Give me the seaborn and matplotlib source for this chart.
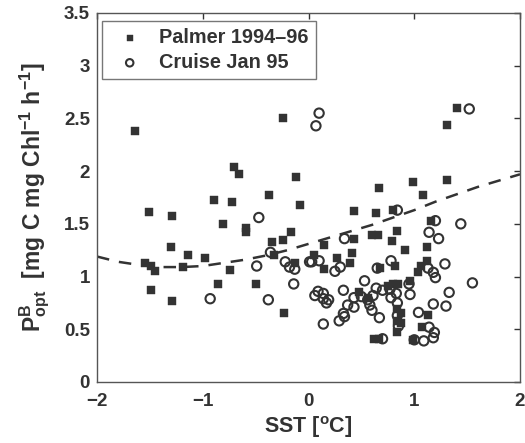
import matplotlib
matplotlib.use("Agg")
import matplotlib.pyplot as plt
import seaborn as sns
import pandas as pd

# ---- data ----
palmer_sst = [-1.64, -0.24, -0.70, -0.66, -0.12, -0.37, -0.89, -0.72, -0.08, -1.51,
              -1.29, -0.81, -0.59, -0.59, -0.17, -0.35, -0.24, -1.30, -1.14, -0.98,
              -0.33, -1.55, -1.49, -1.45, -1.19, -0.74, -0.13, -0.86, -0.50, -1.49,
              -1.29, -0.23,
              1.40, 1.31, 0.67, 0.99, 1.31, 1.08, 0.43, 0.64, 0.80, 0.84,
              0.79, 0.60, 0.66, 0.43, 0.15, 0.91, 0.41, 0.05, 0.27, 0.39,
              0.15, 0.68, 0.82, 0.75, 0.80, 0.85, 0.48, 0.56, 0.84, 0.84,
              0.84, 0.62, 0.67, 1.16, 1.12, 1.12, 1.06, 1.04, 0.96, 1.13,
              1.07, 0.99, 0.87, 0.87]
palmer_p = [2.38, 2.50, 2.04, 1.97, 1.94, 1.77, 1.73, 1.71, 1.68, 1.61,
            1.57, 1.50, 1.46, 1.42, 1.42, 1.33, 1.35, 1.28, 1.20, 1.18,
            1.20, 1.13, 1.10, 1.05, 1.09, 1.06, 1.13, 0.93, 0.93, 0.87,
            0.77, 0.65,
            2.60, 2.44, 1.84, 1.90, 1.92, 1.77, 1.62, 1.60, 1.63, 1.43,
            1.34, 1.39, 1.39, 1.36, 1.30, 1.25, 1.22, 1.20, 1.18, 1.13,
            1.07, 1.08, 1.10, 0.91, 0.93, 0.93, 0.85, 0.80, 0.69, 0.58,
            0.47, 0.41, 0.41, 1.53, 1.28, 1.15, 1.10, 1.04, 0.96, 0.64,
            0.52, 0.40, 0.65, 0.56]

cruise_sst = [0.10, 0.07, 1.52, -0.47, -0.36, -0.49, -0.22, -0.18, -0.13, 0.01,
              -0.14, -0.93, -0.38, 0.84, 0.34, 0.03, 0.10, 0.25, 0.30, 0.65,
              0.78, 0.53, 0.64, 0.70, 0.95, 0.09, 0.14, 0.14, 0.06, 0.33,
              0.50, 0.61, 0.56, 0.77, 0.78, 0.83, 0.19, 0.17, 0.43, 0.43,
              0.37, 0.33, 0.29, 0.34, 0.58, 0.60, 0.67, 0.14, 0.84, 0.84,
              0.85, 0.70, 1.20, 1.44, 1.14, 1.23, 1.13, 1.18, 1.20, 1.29,
              1.55, 0.96, 1.33, 1.18, 1.30, 1.04, 1.14, 1.19, 1.18, 1.00,
              1.09]
cruise_p = [2.55, 2.43, 2.59, 1.56, 1.23, 1.10, 1.14, 1.09, 1.07, 1.14,
            0.93, 0.79, 0.78, 1.63, 1.36, 1.14, 1.15, 1.05, 1.09, 1.08,
            1.15, 0.96, 0.89, 0.87, 0.93, 0.86, 0.84, 0.79, 0.82, 0.87,
            0.81, 0.82, 0.78, 0.88, 0.80, 0.84, 0.78, 0.75, 0.80, 0.71,
            0.73, 0.65, 0.58, 0.62, 0.73, 0.68, 0.61, 0.55, 0.75, 0.63,
            0.53, 0.41, 1.53, 1.50, 1.42, 1.36, 1.08, 1.04, 0.99, 1.12,
            0.94, 0.83, 0.85, 0.74, 0.72, 0.66, 0.52, 0.47, 0.42, 0.40,
            0.39]

curve_sst = [-2.0, -1.8, -1.6, -1.4, -1.2, -1.0, -0.8, -0.6, -0.4, -0.2, 0.0,
             0.2, 0.4, 0.6, 0.8, 1.0, 1.2, 1.4, 1.6, 1.8, 2.0]
curve_p = [1.19, 1.14, 1.11, 1.09, 1.09, 1.10, 1.13, 1.16, 1.20, 1.25, 1.31,
           1.37, 1.43, 1.49, 1.56, 1.63, 1.71, 1.78, 1.85, 1.91, 1.97]

x_ticks = [-2, -1, 0, 1, 2]
y_ticks = [0, 0.5, 1, 1.5, 2, 2.5, 3, 3.5]
y_tick_labels = ["0", "0.5", "1", "1.5", "2", "2.5", "3", "3.5"]

# ---- plot ----
sns.set_style("white")
plt.rcParams["font.family"] = ["Liberation Sans", "DejaVu Sans"]
plt.rcParams["font.weight"] = "bold"
plt.rcParams["mathtext.fontset"] = "custom"
plt.rcParams["mathtext.rm"] = "Liberation Sans:bold"
plt.rcParams["mathtext.it"] = "Liberation Sans:bold"
plt.rcParams["mathtext.bf"] = "Liberation Sans:bold"

fig = plt.figure(figsize=(5.25, 4.43), dpi=100)
ax = fig.add_axes([0.1848, 0.1377, 0.8057, 0.833])

dark = "#333333"
df_p = pd.DataFrame({"SST": palmer_sst, "P": palmer_p})
df_c = pd.DataFrame({"SST": cruise_sst, "P": cruise_p})
df_curve = pd.DataFrame({"SST": curve_sst, "P": curve_p})

sns.lineplot(data=df_curve, x="SST", y="P", ax=ax, color=dark, lw=1.8,
             linestyle=(0, (5, 4)), zorder=1)
sns.scatterplot(data=df_p, x="SST", y="P", ax=ax, marker="s", s=34,
                color=dark, edgecolor=dark, linewidth=0.3,
                label="Palmer 1994\u201396", zorder=3)
sns.scatterplot(data=df_c, x="SST", y="P", ax=ax, marker="o", s=45,
                facecolor="none", edgecolor=dark, linewidth=1.5,
                label="Cruise Jan 95", zorder=3)

ax.set_xlim(-2, 2)
ax.set_ylim(0, 3.5)
ax.set_xticks(x_ticks)
ax.set_yticks(y_ticks)
ax.set_yticklabels(y_tick_labels)
ax.tick_params(direction="in", length=4, width=1, top=True, right=True,
               labelsize=13.5, colors="#333333")
ax.tick_params(axis="x", pad=8)
ax.tick_params(axis="y", pad=5)
for lab in ax.get_xticklabels() + ax.get_yticklabels():
    lab.set_fontweight("bold")
    lab.set_color("#333333")
for sp in ax.spines.values():
    sp.set_color("#555555")
    sp.set_linewidth(1.0)

ax.set_xlabel("SST [$^{\\mathregular{o}}$C]", fontsize=15.5, fontweight="bold",
              color="#333333", labelpad=3)
ax.set_ylabel("P$^{\\mathregular{B}}_{\\mathregular{opt}}$  [mg C mg Chl$^{\\mathregular{-1}}$ h$^{\\mathregular{-1}}$]",
              fontsize=16.5, fontweight="bold", color="#333333", labelpad=9)

leg = ax.legend(loc="upper left", bbox_to_anchor=(0.012, 0.978),
                borderaxespad=0, frameon=True, fancybox=False,
                edgecolor="#555555", fontsize=14.3, handletextpad=0.45,
                borderpad=0.35, labelspacing=0.3, handlelength=2.08,
                markerscale=0.8)
leg.get_frame().set_linewidth(1.0)
for t in leg.get_texts():
    t.set_fontweight("bold")
    t.set_color("#333333")

fig.savefig("out.png", dpi=100)
